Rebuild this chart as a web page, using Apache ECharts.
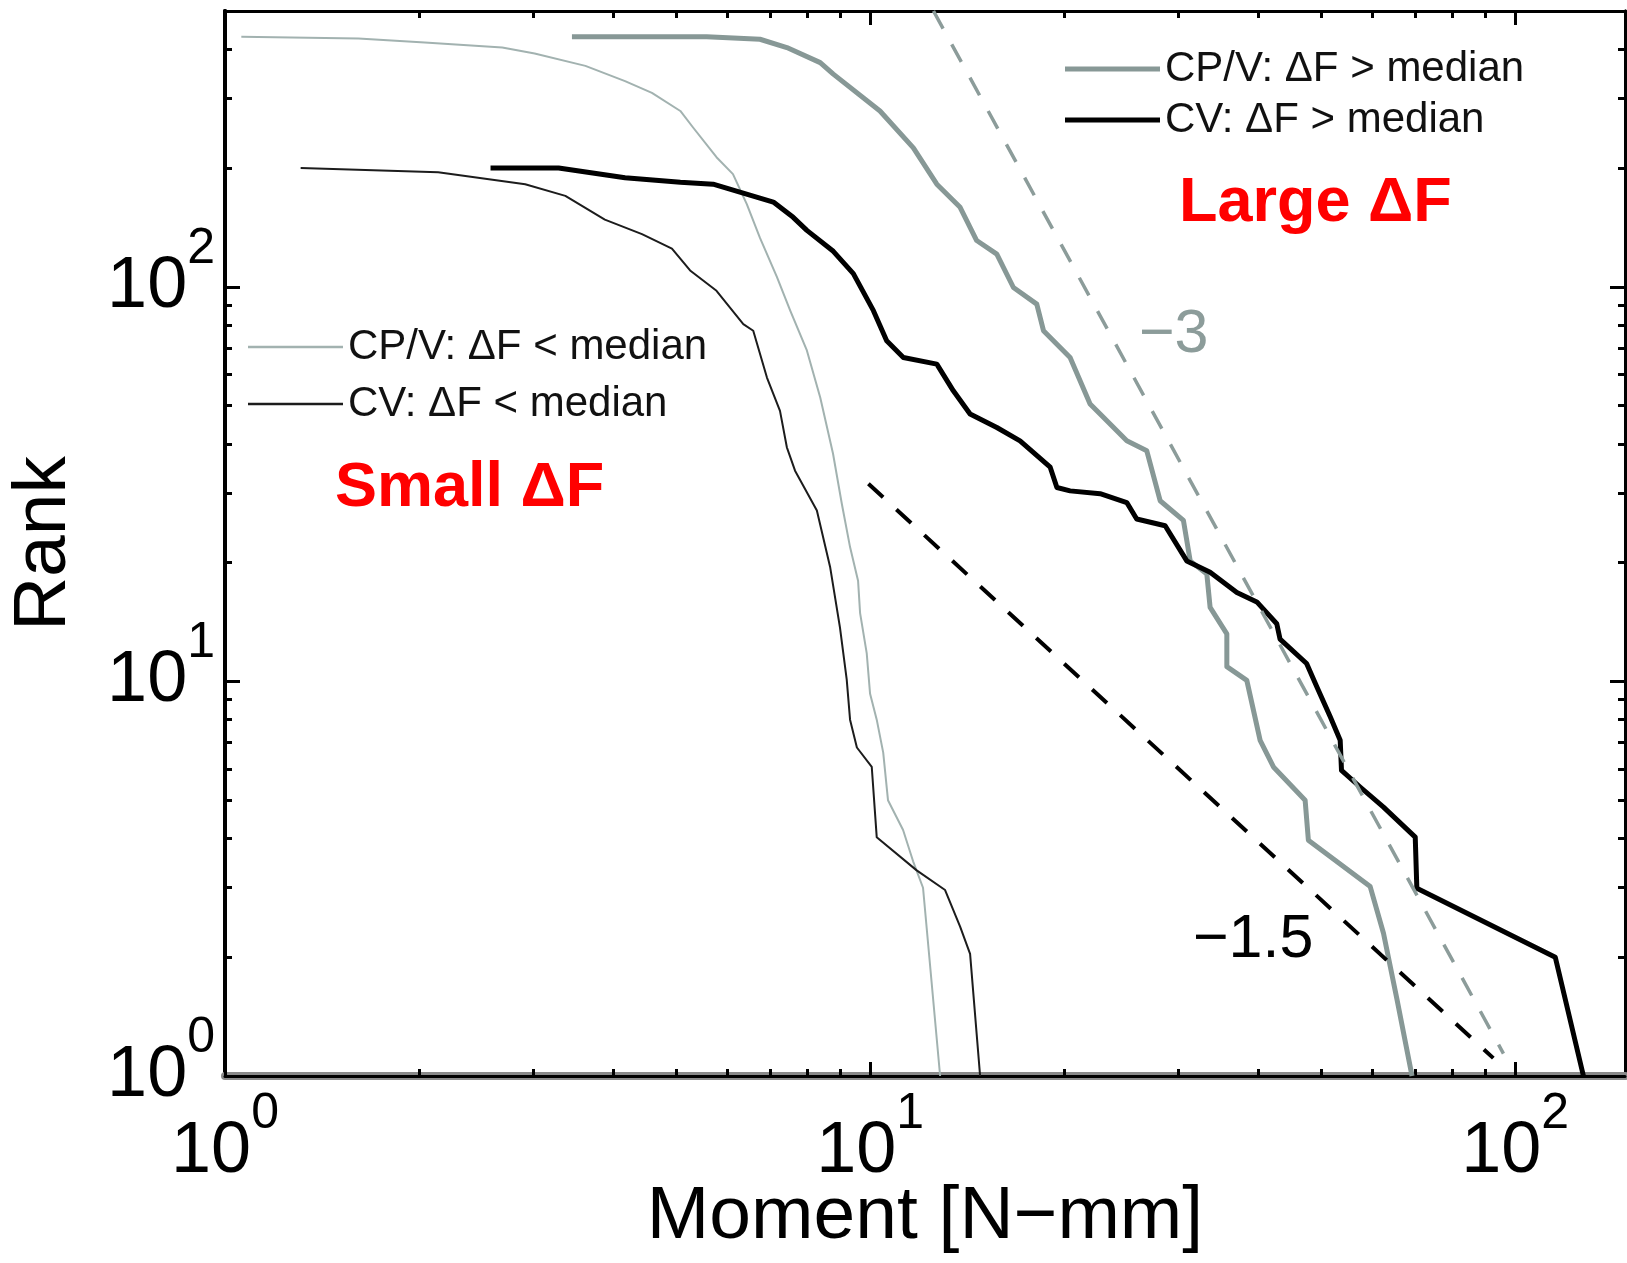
<!DOCTYPE html>
<html>
<head>
<meta charset="utf-8">
<script src="https://cdn.jsdelivr.net/npm/echarts@6/dist/echarts.min.js"></script>
<style>
  html, body { margin: 0; padding: 0; background: #ffffff; }
  #chart { width: 1627px; height: 1263px; }
</style>
</head>
<body>
<div id="chart"></div>
<script>
const FONT = '"Liberation Sans", Arial, Helvetica, sans-serif';

// Rank (cumulative count) against moment, as [moment in N-mm, rank]
const cpvBelowMedian = [
  [1.06, 430], [1.61, 426], [2.04, 416], [2.69, 404], [3.02, 390], [3.62, 363],
  [4.17, 332], [4.59, 310], [5.08, 279], [5.32, 253], [5.78, 213], [6.13, 193],
  [6.44, 162], [6.75, 133], [7.17, 106], [7.52, 87], [7.98, 69], [8.37, 52.4],
  [8.76, 37.8], [9.04, 28.2], [9.31, 21.9], [9.58, 18.0], [9.65, 14.9], [9.88, 11.8],
  [10.0, 9.3], [10.24, 8.0], [10.48, 6.6], [10.66, 5.0], [11.25, 4.2], [11.66, 3.5],
  [12.08, 3.0], [12.84, 1]
];

const cvBelowMedian = [
  [1.31, 200], [2.14, 195], [2.92, 182], [3.37, 170], [3.88, 148], [4.43, 136],
  [4.93, 125], [5.26, 110], [5.78, 97.7], [6.36, 80.4], [6.59, 77.4], [6.92, 58.9],
  [7.25, 48.5], [7.43, 39.2], [7.65, 34.2], [8.27, 27.1], [8.67, 19.5], [8.98, 13.7],
  [9.2, 10.1], [9.31, 8.0], [9.54, 6.8], [10.06, 6.07], [10.24, 4.03], [11.81, 3.32],
  [13.07, 2.96], [13.79, 2.39], [14.29, 2.04], [14.81, 1]
];

const cpvAboveMedian = [
  [3.45, 430], [5.58, 430], [6.75, 424], [7.43, 404], [8.37, 370], [8.77, 346],
  [10.36, 279], [11.67, 225], [12.69, 182], [13.79, 159], [14.63, 131], [15.72, 121],
  [16.68, 99.6], [18.13, 90.4], [18.57, 77.4], [20.42, 66.2], [21.93, 50.5], [22.73, 47.6],
  [25.0, 40.7], [26.85, 38.4], [28.16, 28.7], [30.6, 25.6], [31.35, 20.2], [33.27, 18.7],
  [33.66, 15.4], [35.73, 13.2], [35.73, 10.9], [38.37, 10.06], [40.24, 7.09], [42.2, 6.07],
  [47.25, 5.0], [47.8, 3.96], [59.6, 3.02], [62.5, 2.3], [65.6, 1.56], [69.2, 1]
];

const cvAboveMedian = [
  [2.58, 200], [3.29, 200], [4.17, 189], [5.08, 184], [5.71, 182], [7.08, 164],
  [7.6, 150], [7.98, 139], [8.77, 123], [9.42, 108], [10.12, 87], [10.61, 73],
  [11.26, 66.2], [12.69, 63.7], [13.46, 54.5], [14.29, 47.6], [15.72, 44.0], [17.08, 40.7],
  [19.02, 34.9], [19.48, 31.0], [20.42, 30.4], [22.73, 29.9], [25.0, 28.4], [25.9, 25.8],
  [28.67, 24.8], [30.97, 20.2], [33.66, 18.9], [37.03, 16.8], [39.77, 15.9], [42.7, 14.0],
  [43.2, 12.8], [47.5, 11.1], [49.3, 9.67], [51.7, 8.12], [53.55, 7.09], [53.8, 5.95],
  [57.5, 5.4], [62.5, 4.8], [70.0, 4.03], [70.4, 2.99], [115.4, 2.0], [127.6, 1]
];

// Power-law guides, drawn between their end points
const slopeMinus3 = [[12.54, 500], [95.9, 1.14]];
const slopeMinus1p5 = [[9.94, 31.7], [92.5, 1.11]];

// Axis ticks
const xMajorTicks = [1, 10, 100];
const xMinorTicks = [2, 3, 4, 5, 6, 7, 8, 9, 20, 30, 40, 50, 60, 70, 80, 90];
const yMajorTicks = [1, 10, 100];
const yMinorTicks = [2, 3, 4, 5, 6, 7, 8, 9, 20, 30, 40, 50, 60, 70, 80, 90, 200, 300, 400];
const majorTickExponents = ['0', '1', '2'];

const X_MIN = 1, X_MAX = 148;
const Y_MIN = 1, Y_MAX = 500;

function powerLabel(majors, exps) {
  return function (v) {
    const i = majors.findIndex(function (m) { return Math.abs(m - v) / m < 1e-6; });
    return i < 0 ? '' : '{b|10}{s|' + exps[i] + '}';
  };
}

const labelRich = {
  b: { fontSize: 72, lineHeight: 76, fontFamily: FONT, color: '#000', verticalAlign: 'middle' },
  s: { fontSize: 50, lineHeight: 40, fontFamily: FONT, color: '#000', verticalAlign: 'middle', padding: [0, 0, 76, 0] }
};

function logAxis(kind, position, ticks, tickLen, lineColor, lineWidth, extra) {
  return Object.assign({
    type: 'log',
    logBase: 10,
    min: kind === 'x' ? X_MIN : Y_MIN,
    max: kind === 'x' ? X_MAX : Y_MAX,
    position: position,
    gridIndex: 0,
    axisLine: { show: true, onZero: false, lineStyle: { color: lineColor, width: lineWidth } },
    axisTick: { show: true, inside: true, length: tickLen, customValues: ticks,
                lineStyle: { color: '#000', width: 3 } },
    axisLabel: { show: false },
    splitLine: { show: false },
    minorTick: { show: false },
    minorSplitLine: { show: false }
  }, extra || {});
}

function curve(name, data, color, width, z) {
  return {
    type: 'line', name: name, data: data, xAxisIndex: 0, yAxisIndex: 0,
    symbol: 'none', showSymbol: false, silent: true, z: z,
    color: color, itemStyle: { color: color },
    lineStyle: { color: color, width: width, join: 'round' },
    emphasis: { disabled: true }
  };
}

function guide(name, data, color, width, z) {
  return {
    type: 'line', name: name, data: data, xAxisIndex: 0, yAxisIndex: 0,
    symbol: 'none', showSymbol: false, silent: true, z: z,
    color: color, itemStyle: { color: color },
    lineStyle: { color: color, width: width, type: [20, 18] },
    emphasis: { disabled: true }
  };
}

const GREY_THIN = '#a2b2b0';
const GREY_THICK = '#879896';
const GREY_DASH = '#8c9c9a';

const option = {
  animation: false,
  backgroundColor: '#ffffff',
  textStyle: { fontFamily: FONT },
  grid: { left: 225, right: 2, top: 11, bottom: 187, containLabel: false, outerBoundsMode: 'none' },
  xAxis: [
    logAxis('x', 'bottom', xMajorTicks, 14, '#8a8a8a', 8, {
      axisLabel: {
        show: true, customValues: xMajorTicks, margin: 38,
        formatter: powerLabel(xMajorTicks, majorTickExponents), rich: labelRich
      },
      name: 'Moment [N\u2212mm]',
      nameLocation: 'middle',
      nameGap: 104,
      nameMoveOverlap: false,
      nameTextStyle: { fontSize: 75, lineHeight: 75, fontFamily: FONT, color: '#000' }
    }),
    logAxis('x', 'bottom', xMinorTicks, 7, '#000', 3),
    logAxis('x', 'top', xMajorTicks, 14, '#000', 3),
    logAxis('x', 'top', xMinorTicks, 7, '#000', 3)
  ],
  yAxis: [
    logAxis('y', 'left', yMajorTicks, 15, '#000', 4, {
      axisLabel: {
        show: true, customValues: yMajorTicks, margin: 10,
        formatter: powerLabel(yMajorTicks, majorTickExponents), rich: labelRich
      },
      name: 'Rank',
      nameLocation: 'middle',
      nameGap: 143,
      nameMoveOverlap: false,
      nameTextStyle: { fontSize: 75, lineHeight: 75, fontFamily: FONT, color: '#000' }
    }),
    logAxis('y', 'left', yMinorTicks, 7, '#000', 4),
    logAxis('y', 'right', yMajorTicks, 15, '#000', 3),
    logAxis('y', 'right', yMinorTicks, 7, '#000', 3)
  ],
  legend: [
    {
      data: ['CP/V: \u0394F > median', 'CV: \u0394F > median'],
      orient: 'vertical', left: 1065, top: 47, padding: 0,
      itemWidth: 95, itemHeight: 5, itemGap: 7, icon: 'rect',
      selectedMode: false,
      textStyle: { fontSize: 42, lineHeight: 44, fontFamily: FONT, color: '#111' }
    },
    {
      data: ['CP/V: \u0394F < median', 'CV: \u0394F < median'],
      orient: 'vertical', left: 248, top: 325, padding: 0,
      itemWidth: 95, itemHeight: 2.5, itemGap: 13, icon: 'rect',
      selectedMode: false,
      textStyle: { fontSize: 42, lineHeight: 44, fontFamily: FONT, color: '#111' }
    }
  ],
  series: [
    curve('CP/V: \u0394F < median', cpvBelowMedian, GREY_THIN, 2, 2),
    curve('CV: \u0394F < median', cvBelowMedian, '#1c1c1c', 2, 3),
    curve('CP/V: \u0394F > median', cpvAboveMedian, GREY_THICK, 5, 4),
    curve('CV: \u0394F > median', cvAboveMedian, '#000000', 5, 5),
    guide('slope \u22123', slopeMinus3, GREY_DASH, 3.5, 6),
    guide('slope \u22121.5', slopeMinus1p5, '#000000', 4, 6)
  ],
  graphic: [
    { type: 'text', x: 1179, y: 204, silent: true,
      style: { text: 'Large \u0394F', fill: '#ff0000', fontSize: 63, fontWeight: 'bold', fontFamily: FONT, verticalAlign: 'middle', align: 'left' } },
    { type: 'text', x: 335, y: 489, silent: true,
      style: { text: 'Small \u0394F', fill: '#ff0000', fontSize: 63, fontWeight: 'bold', fontFamily: FONT, verticalAlign: 'middle', align: 'left' } },
    { type: 'text', x: 1139, y: 335, silent: true,
      style: { text: '\u22123', fill: GREY_DASH, fontSize: 61, fontFamily: FONT, verticalAlign: 'middle', align: 'left' } },
    { type: 'text', x: 1193, y: 940, silent: true,
      style: { text: '\u22121.5', fill: '#000', fontSize: 61, fontFamily: FONT, verticalAlign: 'middle', align: 'left' } }
  ]
};

const chart = echarts.init(document.getElementById('chart'), null, { renderer: 'canvas' });
chart.setOption(option);
</script>
</body>
</html>
